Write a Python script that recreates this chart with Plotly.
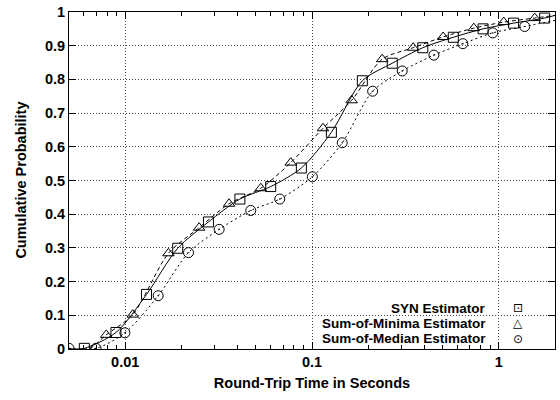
import plotly.graph_objects as go

# SYN Estimator (squares, solid line)
syn_x = [0.00604, 0.00892, 0.0130, 0.0191, 0.0279, 0.0411, 0.0601, 0.0877, 0.127, 0.186,
         0.269, 0.392, 0.571, 0.824, 1.20, 1.76]
syn_y = [0.002, 0.049, 0.162, 0.299, 0.377, 0.445, 0.482, 0.537, 0.643, 0.796,
         0.848, 0.894, 0.925, 0.950, 0.967, 0.982]

# Sum-of-Minima Estimator (triangles, dashed line)
min_x = [0.00791, 0.01097, 0.01704, 0.02487, 0.03598, 0.05318, 0.07693, 0.1145, 0.1631,
         0.2376, 0.348, 0.5036, 0.735, 1.063, 1.558]
min_y = [0.042, 0.102, 0.284, 0.360, 0.431, 0.477, 0.553, 0.655, 0.738,
         0.860, 0.894, 0.926, 0.952, 0.970, 0.982]

# Sum-of-Median Estimator (circles, dotted line)
med_x = [0.005, 0.006975, 0.00996, 0.01501, 0.02181, 0.03183, 0.04701, 0.06721, 0.1004,
         0.1452, 0.2112, 0.304, 0.4494, 0.642, 0.9289, 1.377]
med_y = [0.002, 0.002, 0.048, 0.158, 0.286, 0.355, 0.411, 0.445, 0.511,
         0.612, 0.765, 0.825, 0.872, 0.906, 0.938, 0.957]

# line end points (curves run edge to edge)
syn_line_x = [0.005] + syn_x + [2.0]
syn_line_y = [0.0] + syn_y + [0.99]
min_line_x = [0.005, 0.0065] + min_x + [2.0]
min_line_y = [0.0, 0.003] + min_y + [0.99]
med_line_x = med_x + [2.0]
med_line_y = med_y + [0.975]

y_ticks = [0, 0.1, 0.2, 0.3, 0.4, 0.5, 0.6, 0.7, 0.8, 0.9, 1]
y_tick_text = ["0", "0.1", "0.2", "0.3", "0.4", "0.5", "0.6", "0.7", "0.8", "0.9", "1"]

labels = ["SYN Estimator", "Sum-of-Minima Estimator", "Sum-of-Median Estimator"]
legend_glyphs = ["\u22a1", "\u25b3", "\u2299"]

FONT = "Liberation Sans, Arial, sans-serif"

fig = go.Figure()

series = [
    (syn_line_x, syn_line_y, syn_x, syn_y, "solid", "square-open"),
    (min_line_x, min_line_y, min_x, min_y, "4px,3px", "triangle-up-open"),
    (med_line_x, med_line_y, med_x, med_y, "2px,3px", "circle-open-dot"),
]
for lx, ly, mx, my, dash, sym in series:
    fig.add_trace(go.Scatter(x=lx, y=ly, mode="lines",
                             line=dict(color="black", width=1, dash=dash, shape="spline", smoothing=0.8),
                             showlegend=False, hoverinfo="skip", cliponaxis=True))
    fig.add_trace(go.Scatter(x=mx, y=my, mode="markers",
                             marker=dict(symbol=sym, size=10, color="black", line=dict(width=1, color="black")),
                             showlegend=False, cliponaxis=True))

# key background (opaque, hides grid)
fig.add_shape(type="rect", xref="paper", yref="paper", x0=0.458, x1=0.985, y0=0.004, y1=0.143,
              fillcolor="white", line=dict(width=0), layer="between")

rows = [0.121, 0.076, 0.031]
for lab, g, yy in zip(labels, legend_glyphs, rows):
    fig.add_annotation(xref="paper", yref="paper", x=0.860, y=yy, text=lab, showarrow=False,
                       xanchor="right", yanchor="middle", borderpad=0,
                       font=dict(family=FONT, size=13.5, color="black", weight="bold"))
    fig.add_annotation(xref="paper", yref="paper", x=0.924, y=yy, text=g, showarrow=False,
                       xanchor="center", yanchor="middle", borderpad=0,
                       font=dict(family="DejaVu Sans", size=12, color="black"))

# y-axis title placed as rotated text
fig.add_annotation(xref="paper", yref="paper", x=-0.1006, y=0.5, text="Cumulative Probability",
                   showarrow=False, textangle=-90, xanchor="center", yanchor="middle",
                   font=dict(family=FONT, size=14.5, color="black", weight="bold"))

axis_common = dict(showline=True, linecolor="black", linewidth=1, mirror="allticks",
                   ticks="inside", ticklen=7, tickcolor="black", tickwidth=1,
                   showgrid=True, gridcolor="#444", griddash="1px,2px", gridwidth=1,
                   zeroline=False, ticklabeloverflow="allow",
                   tickfont=dict(family=FONT, size=14.5, color="black", weight="bold"))

fig.update_xaxes(type="log", range=[-2.30103, 0.30103], dtick=1,
                 minor=dict(ticks="inside", ticklen=4, tickcolor="black", showgrid=False),
                 title=dict(text="Round-Trip Time in Seconds", standoff=8,
                            font=dict(family=FONT, size=14.5, color="black", weight="bold")),
                 **axis_common)
fig.update_yaxes(range=[0, 1], tickmode="array", tickvals=y_ticks, ticktext=y_tick_text,
                 **axis_common)

fig.update_layout(width=560, height=400, margin=dict(l=69, r=4, t=7, b=51),
                  plot_bgcolor="white", paper_bgcolor="white", showlegend=False)

fig.write_html("out.html")
